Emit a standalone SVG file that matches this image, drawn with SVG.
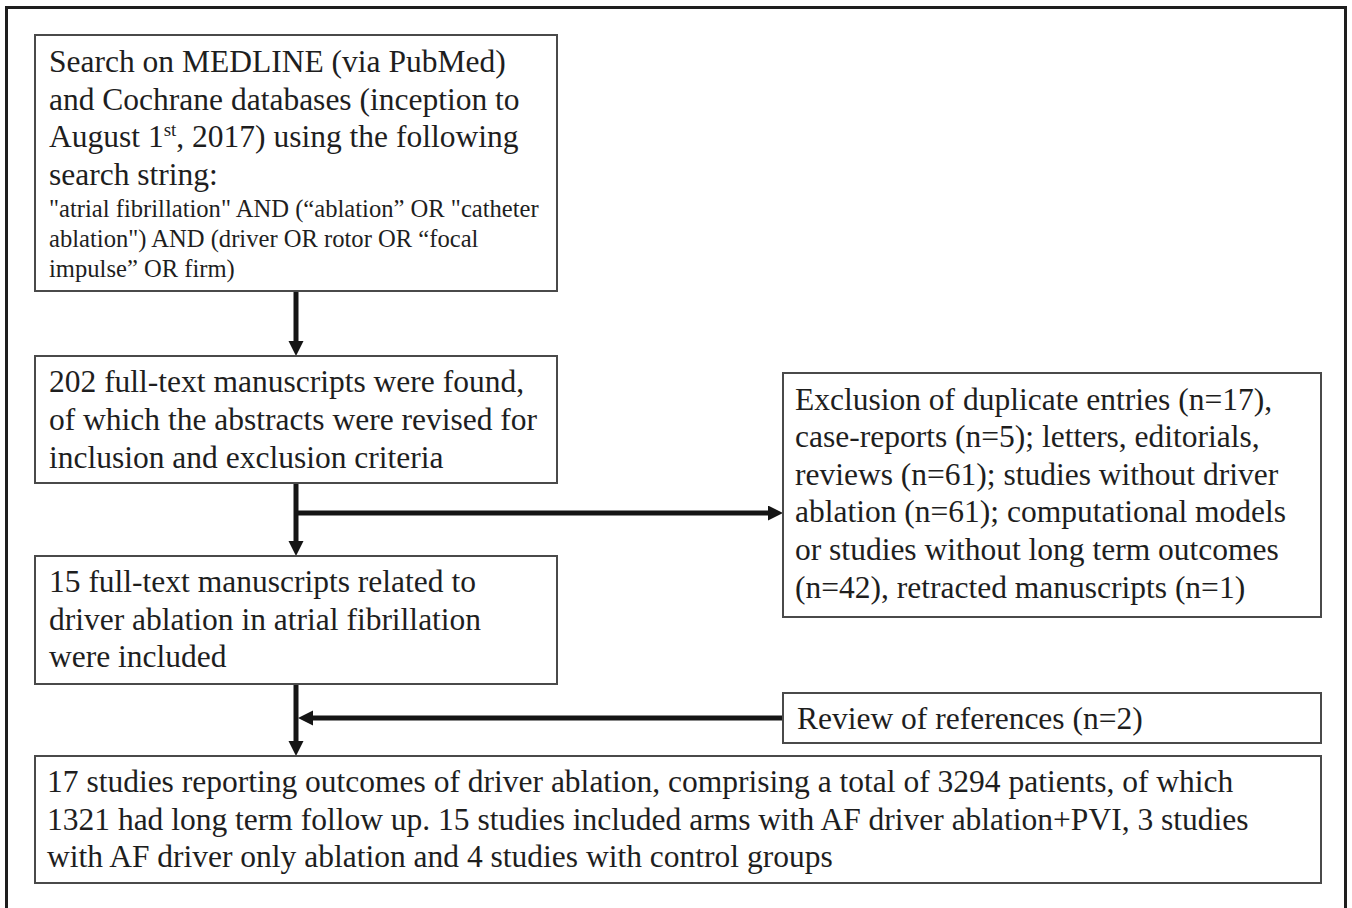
<svg xmlns="http://www.w3.org/2000/svg" width="1352" height="908" viewBox="0 0 1352 908">
<style>
.frame{fill:none;stroke:#1e1e1e;stroke-width:3}
.box{fill:#fff;stroke:#4a4a4a;stroke-width:2}
.t{font-family:"Liberation Serif","Times New Roman",serif;font-size:31.5px;fill:#1e1e1e}
.s{font-family:"Liberation Serif","Times New Roman",serif;font-size:24.6px;fill:#1e1e1e}
.con{fill:none;stroke:#151515;stroke-width:5}
</style>
<defs>
<marker id="ah" markerUnits="userSpaceOnUse" markerWidth="16" markerHeight="16" refX="3" refY="7.5" orient="auto">
<path d="M0,0 L15,7.5 L0,15 z" fill="#151515"/>
</marker>
</defs>
<rect width="1352" height="908" fill="#fff"/>
<rect class="frame" x="6.5" y="7.5" width="1339" height="920"/>
<g id="connectors">
<path class="con" d="M296,291 V344" marker-end="url(#ah)"/>
<path class="con" d="M296,484 V544" marker-end="url(#ah)"/>
<path class="con" d="M296,513 H771" marker-end="url(#ah)"/>
<path class="con" d="M296,684 V744" marker-end="url(#ah)"/>
<path class="con" d="M783,718 H310" marker-end="url(#ah)"/>
</g>
<g id="search">
<rect class="box" x="35" y="35" width="522" height="256"/>
<text class="t" x="49" y="72">Search on MEDLINE (via PubMed)</text>
<text class="t" x="49" y="110">and Cochrane databases (inception to</text>
<text class="t" x="49" y="147">August 1<tspan font-size="19" dy="-11">st</tspan><tspan dy="11">, 2017) using the following</tspan></text>
<text class="t" x="49" y="185">search string:</text>
<text class="s" x="49" y="217">"atrial fibrillation" AND (“ablation” OR "catheter</text>
<text class="s" x="49" y="247">ablation") AND (driver OR rotor OR “focal</text>
<text class="s" x="49" y="277">impulse” OR firm)</text>
</g>
<g id="found">
<rect class="box" x="35" y="356" width="522" height="127"/>
<text class="t" x="49" y="392">202 full-text manuscripts were found,</text>
<text class="t" x="49" y="430">of which the abstracts were revised for</text>
<text class="t" x="49" y="468">inclusion and exclusion criteria</text>
</g>
<g id="excluded">
<rect class="box" x="783" y="373" width="538" height="244"/>
<text class="t" x="795" y="410">Exclusion of duplicate entries (n=17),</text>
<text class="t" x="795" y="447">case-reports (n=5); letters, editorials,</text>
<text class="t" x="795" y="485">reviews (n=61); studies without driver</text>
<text class="t" x="795" y="522">ablation (n=61); computational models</text>
<text class="t" x="795" y="560">or studies without long term outcomes</text>
<text class="t" x="795" y="598">(n=42), retracted manuscripts (n=1)</text>
</g>
<g id="included">
<rect class="box" x="35" y="556" width="522" height="128"/>
<text class="t" x="49" y="592">15 full-text manuscripts related to</text>
<text class="t" x="49" y="630">driver ablation in atrial fibrillation</text>
<text class="t" x="49" y="667">were included</text>
</g>
<g id="references">
<rect class="box" x="783" y="693" width="538" height="50"/>
<text class="t" x="797" y="729">Review of references (n=2)</text>
</g>
<g id="studies">
<rect class="box" x="35" y="756" width="1286" height="127"/>
<text class="t" x="47" y="792">17 studies reporting outcomes of driver ablation, comprising a total of 3294 patients, of which</text>
<text class="t" x="47" y="830">1321 had long term follow up. 15 studies included arms with AF driver ablation+PVI, 3 studies</text>
<text class="t" x="47" y="867">with AF driver only ablation and 4 studies with control groups</text>
</g>
</svg>
